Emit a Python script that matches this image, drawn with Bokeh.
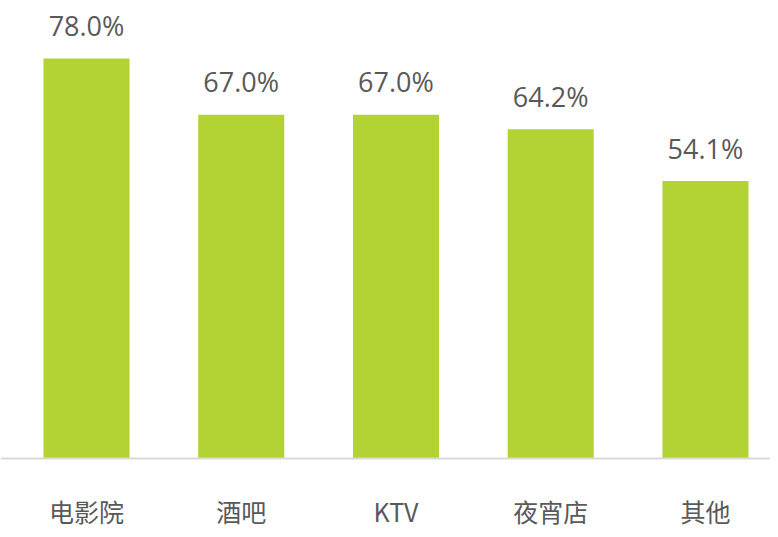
from bokeh.plotting import figure
from bokeh.models import ColumnDataSource, Range1d, Span
from bokeh.core.properties import value
from bokeh.embed import file_html
from bokeh.resources import INLINE

categories = ["电影院", "酒吧", "KTV", "夜宵店", "其他"]
values = [78.0, 67.0, 67.0, 64.2, 54.1]
labels = ["78.0%", "67.0%", "67.0%", "64.2%", "54.1%"]

xs = [i + 0.5 for i in range(len(categories))]
src = ColumnDataSource(dict(x=xs, top=values, label=labels, cat=categories, base=[0] * len(xs)))

p = figure(width=770, height=529, output_backend="svg", toolbar_location=None,
           x_range=Range1d(-0.0557, 4.9202), y_range=Range1d(-13.85, 89.3),
           min_border_left=0, min_border_right=0, min_border_top=0, min_border_bottom=0)
p.outline_line_color = None
p.grid.visible = False
p.axis.visible = False
p.background_fill_color = "white"
p.border_fill_color = "white"

p.vbar(x="x", top="top", bottom=0, width=0.556, source=src, color="#b3d234", line_color=None)
p.add_layout(Span(location=0, dimension="width", line_color="#d9d9d9", line_width=2))
p.text(x="x", y="top", text="label", source=src, text_align="center", text_baseline="alphabetic",
       y_offset=-33, text_font=value("Open Sans"), text_font_size="27px", text_color="#595959")
p.text(x="x", y="base", text="cat", source=src, text_align="center", text_baseline="middle",
       y_offset=53, text_font=value("Noto Sans CJK SC"), text_font_size="25px", text_color="#595959")

open("out.html", "w").write(file_html(p, INLINE))
